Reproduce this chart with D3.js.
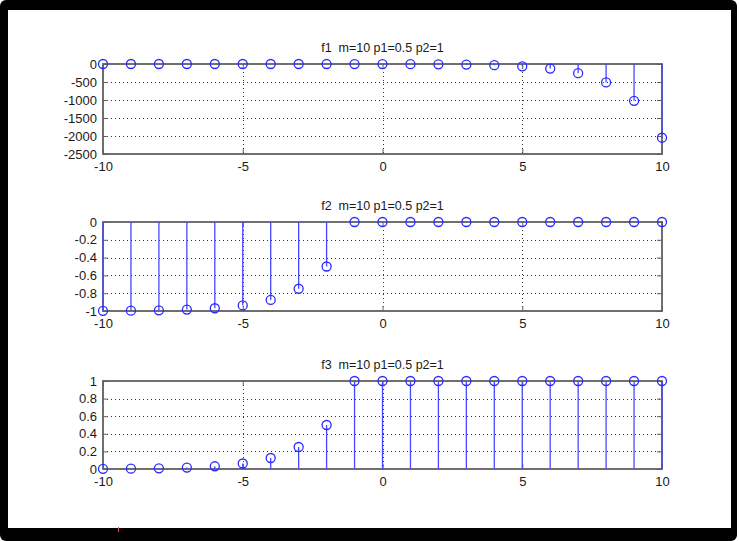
<!DOCTYPE html>
<html><head><meta charset="utf-8">
<script src="https://cdn.jsdelivr.net/npm/d3@7"></script>
<style>html,body{margin:0;padding:0;background:#fff;}svg{display:block;} text{white-space:pre;}</style>
</head><body>
<svg id="c" width="739" height="541"></svg>
<script>
// ---- data ----
const xValues = [-10,-9,-8,-7,-6,-5,-4,-3,-2,-1,0,1,2,3,4,5,6,7,8,9,10];
const f1Values = [-0.002,-0.004,-0.008,-0.016,-0.031,-0.0625,-0.125,-0.25,-0.5,-1,-2,-4,-8,-16,-32,-64,-128,-256,-512,-1024,-2048];
const f2Values = [-0.998,-0.996,-0.992,-0.984,-0.969,-0.9375,-0.875,-0.75,-0.5,0,0,0,0,0,0,0,0,0,0,0,0];
const f3Values = [0.002,0.004,0.008,0.016,0.031,0.0625,0.125,0.25,0.5,1,1,1,1,1,1,1,1,1,1,1,1];
const titles = ["f1  m=10 p1=0.5 p2=1","f2  m=10 p1=0.5 p2=1","f3  m=10 p1=0.5 p2=1"];
const xTicks = [-10,-5,0,5,10];
const f1Ticks = [-2500,-2000,-1500,-1000,-500,0];
const f2Ticks = [-1,-0.8,-0.6,-0.4,-0.2,0];
const f3Ticks = [0,0.2,0.4,0.6,0.8,1];

const panels = [
  {title:titles[0], values:f1Values, ticks:f1Ticks, top:64, bottom:154},
  {title:titles[1], values:f2Values, ticks:f2Ticks, top:222, bottom:311},
  {title:titles[2], values:f3Values, ticks:f3Ticks, top:381, bottom:469}
];

const svg = d3.select("#c");
// frame
svg.append("rect").attr("x",0).attr("y",0).attr("width",737).attr("height",541).attr("rx",6).attr("fill","#000");
svg.append("rect").attr("x",8).attr("y",10).attr("width",723).attr("height",518).attr("fill","#fff");
svg.append("line").attr("x1",118.5).attr("x2",118.5).attr("y1",527).attr("y2",532).attr("stroke","#e0409a").attr("stroke-width",1);

const x = d3.scaleLinear().domain([-10,10]).range([103,662]);
const font = "'Liberation Sans', Arial, sans-serif";
const boxColor = "#606060";
const stemColor = "#4848ff";
const markColor = "#2a2aff";

panels.forEach(p => {
  const ext = d3.extent(p.ticks);
  const y = d3.scaleLinear().domain(ext).range([p.bottom, p.top]);
  const g = svg.append("g");
  // grid
  const gridY = p.ticks.filter(t => t !== ext[0] && t !== ext[1]);
  g.selectAll("line.gy").data(gridY).enter().append("line")
    .attr("x1",x(-10)).attr("x2",x(10)).attr("y1",d=>Math.round(y(d))+0.5).attr("y2",d=>Math.round(y(d))+0.5)
    .attr("stroke","#333").attr("stroke-width",1).attr("stroke-dasharray","1,3");
  g.selectAll("line.gx").data(xTicks.filter(t=>t!==-10&&t!==10)).enter().append("line")
    .attr("x1",d=>Math.round(x(d))+0.5).attr("x2",d=>Math.round(x(d))+0.5).attr("y1",p.top).attr("y2",p.bottom)
    .attr("stroke","#333").attr("stroke-width",1).attr("stroke-dasharray","1,3");
  // box
  g.append("rect").attr("x",x(-10)).attr("y",p.top).attr("width",x(10)-x(-10)).attr("height",p.bottom-p.top)
    .attr("fill","none").attr("stroke",boxColor).attr("stroke-width",1.8);
  // axes
  const ax = g.append("g").attr("transform",`translate(0,${p.bottom})`)
    .call(d3.axisBottom(x).tickValues(xTicks).tickSizeInner(-5).tickSizeOuter(0).tickPadding(8).tickFormat(d=>String(d)));
  const ay = g.append("g").attr("transform",`translate(${x(-10)},0)`)
    .call(d3.axisLeft(y).tickValues(p.ticks).tickSizeInner(-5).tickSizeOuter(0).tickPadding(6).tickFormat(d=>String(d)));
  const ayr = g.append("g").attr("transform",`translate(${x(10)},0)`)
    .call(d3.axisRight(y).tickValues(p.ticks).tickSizeInner(-5).tickSizeOuter(0).tickFormat(""));
  const axt = g.append("g").attr("transform",`translate(0,${p.top})`)
    .call(d3.axisTop(x).tickValues(xTicks).tickSizeInner(-5).tickSizeOuter(0).tickFormat(""));
  [ax,ay,ayr,axt].forEach(a => {
    a.select(".domain").remove();
    a.selectAll(".tick line").attr("stroke",boxColor).attr("stroke-width",1);
    a.selectAll("text").attr("font-family",font).attr("font-size",13).attr("fill","#1a1a1a");
  });
  // title
  g.append("text").attr("x",x(0)).attr("y",p.top-12).attr("text-anchor","middle")
    .attr("font-family",font).attr("font-size",12.5).attr("fill","#1a1a1a").text(p.title);
  // stems
  g.selectAll("line.stem").data(p.values).enter().append("line")
    .attr("x1",(d,i)=>x(xValues[i])).attr("x2",(d,i)=>x(xValues[i]))
    .attr("y1",y(0)).attr("y2",d=>y(d))
    .attr("stroke",stemColor).attr("stroke-width",1.3);
  g.selectAll("circle").data(p.values).enter().append("circle")
    .attr("cx",(d,i)=>x(xValues[i])).attr("cy",d=>y(d)).attr("r",4.5)
    .attr("fill","none").attr("stroke",markColor).attr("stroke-width",1.3);
});
</script>
</body></html>
